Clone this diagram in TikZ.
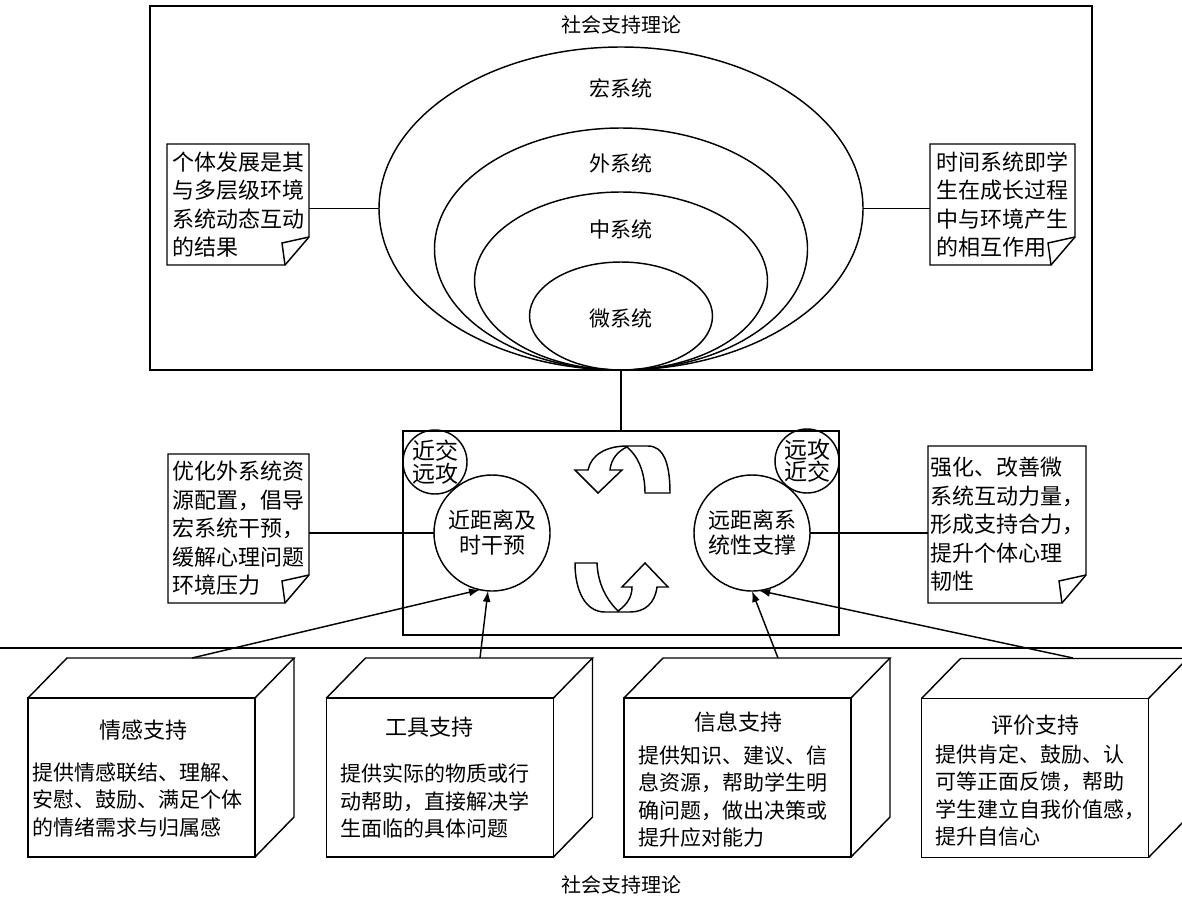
\documentclass[tikz,border=0pt]{standalone}
\usepackage{fontspec}
\newfontfamily\cjk{Noto Sans CJK SC}
\usetikzlibrary{shapes.geometric,arrows.meta,calc}
\newcommand\foldnote[1]{%
  \draw (#1.north west) -- (#1.north east) -- ($(#1.south east)+(0,-28)$) -- ($(#1.south east)+(-24,0)$) -- (#1.south west) -- cycle;
  \draw ($(#1.south east)+(0,-28)$) -- ($(#1.south east)+(-27,-22)$) -- ($(#1.south east)+(-24,0)$);}
\newcommand\cubefaces[1]{%
  \draw (#1.north west) -- ++(39,-40) -- ($(#1.north east)+(39,-40)$) -- (#1.north east);
  \draw ($(#1.north east)+(39,-40)$) -- ($(#1.south east)+(39,-40)$) -- (#1.south east);}
\begin{document}
\begin{tikzpicture}[x=1pt,y=-1pt,line width=1.45pt,
  every node/.style={font=\cjk, inner sep=0pt, outer sep=0pt},
  elllbl/.style={font=\cjk\fontsize{21}{25}\selectfont},
  title/.style={font=\cjk\fontsize{20}{24}\selectfont},
  notebox/.style={align=left, font=\cjk\fontsize{22}{28.5}\selectfont},
  bigcirc/.style={draw, circle, minimum size=116pt, align=center, font=\cjk\fontsize{22}{25}\selectfont},
  smallcirc/.style={draw, circle, minimum size=64pt, align=center, font=\cjk\fontsize{23}{22.5}\selectfont},
  frontface/.style={draw, minimum width=227pt, minimum height=159pt},
  cubetitle/.style={font=\cjk\fontsize{22}{26}\selectfont},
  cubebody/.style={anchor=west, align=left, font=\cjk\fontsize{21}{27.5}\selectfont},
  arr/.style={-{Latex[length=11pt,width=8pt]}},
  ribbon/.style={draw, fill=white}
]
\useasboundingbox (0,0) rectangle (1182,903);

% top box
\node[draw, minimum width=942pt, minimum height=364pt] (topbox) at (621,188) {};
\node[title] (toptitle) at (621,25) {社会支持理论};

% nested ellipses
\node[draw, ellipse, minimum width=484pt, minimum height=323pt] (macro) at (621,208.5) {};
\node[draw, ellipse, minimum width=373pt, minimum height=242pt] (exo) at (621,249) {};
\node[draw, ellipse, minimum width=293pt, minimum height=178pt] (meso) at (621,281) {};
\node[draw, ellipse, minimum width=183pt, minimum height=108pt] (micro) at (621,316) {};
\node[elllbl] (lmacro) at (621,88) {宏系统};
\node[elllbl] (lexo) at (621,163) {外系统};
\node[elllbl] (lmeso) at (621,229) {中系统};
\node[elllbl] (lmicro) at (621,318) {微系统};

% top notes
\node[notebox, minimum width=142pt, minimum height=121pt] (tln) at (238,204.5) {个体发展是其\\与多层级环境\\系统动态互动\\的结果};
\foldnote{tln}
\node[notebox, minimum width=145pt, minimum height=121pt] (trn) at (1002.5,204.5) {时间系统即学\\生在成长过程\\中与环境产生\\的相互作用};
\foldnote{trn}
\draw (macro.west) -- (macro.west -| tln.east);
\draw (macro.east) -- (macro.east -| trn.west);

% middle box
\node[draw, minimum width=436pt, minimum height=204pt] (midbox) at (621,533) {};
\draw (topbox.south) -- (midbox.north);
\node[smallcirc] (sl) at (435,462) {近交\\远攻};
\node[smallcirc] (sr) at (807,461) {远攻\\近交};
\node[bigcirc, fill=white] (lc) at (492,533) {近距离及\\时干预};
\node[bigcirc, fill=white] (rc) at (752,533) {远距离系\\统性支撑};

% cycle ribbons
\path[ribbon] (645,493) -- (670,493)
  .. controls (670,462) and (663,446) .. (648,446) -- (627,446)
  .. controls (606,446) and (591,455) .. (588,470)
  -- (575,470) -- (598,493) -- (622,470) -- (610,470)
  .. controls (611,459) and (618,451) .. (627,447)
  .. controls (638,456) and (645,472) .. (645,493) -- cycle;
\path[ribbon] (575,563) -- (597,563)
  .. controls (598,586) and (608,601) .. (618,611)
  .. controls (628,604) and (632,596) .. (632,587)
  -- (622,587) -- (645,563) -- (668,587) -- (657,587)
  .. controls (655,603) and (645,612) .. (630,612) -- (605,612)
  .. controls (586,612) and (575,592) .. (575,563) -- cycle;

% middle notes
\node[notebox, minimum width=141pt, minimum height=149pt] (bln) at (238.5,528.5) {优化外系统资\\源配置，倡导\\宏系统干预，\\缓解心理问题\\环境压力};
\foldnote{bln}
\node[notebox, minimum width=158pt, minimum height=157pt] (brn) at (1007,524.5) {强化、改善微\\系统互动力量，\\形成支持合力，\\提升个体心理\\韧性};
\foldnote{brn}
\draw (bln.east |- lc.west) -- (lc.west);
\draw (rc.east) -- (rc.east -| brn.west);

% divider line
\coordinate (hl) at (0,648);
\coordinate (hr) at (1182,648);
\draw (hl) -- (hr);

% cubes
\node[frontface] (c1) at (141.5,777.5) {};
\cubefaces{c1}
\node[cubetitle] (t1) at (143,730) {情感支持};
\node[cubebody] (b1) at (32,800) {提供情感联结、理解、\\安慰、鼓励、满足个体\\的情绪需求与归属感};

\node[frontface] (c2) at (440,777.5) {};
\cubefaces{c2}
\node[cubetitle] (t2) at (429,727) {工具支持};
\node[cubebody] (b2) at (340,801) {提供实际的物质或行\\动帮助，直接解决学\\生面临的具体问题};

\node[frontface] (c3) at (737.5,777.5) {};
\cubefaces{c3}
\node[cubetitle] (t3) at (738,722) {信息支持};
\node[cubebody] (b3) at (638,796.5) {提供知识、建议、信\\息资源，帮助学生明\\确问题，做出决策或\\提升应对能力};

\node[frontface] (c4) at (1035,778) {};
\cubefaces{c4}
\node[cubetitle] (t4) at (1035,725) {评价支持};
\node[cubebody] (b4) at (935,795.5) {提供肯定、鼓励、认\\可等正面反馈，帮助\\学生建立自我价值感，\\提升自信心};

% arrows
\coordinate (a1) at (192,658);
\coordinate (a2) at (480,658);
\coordinate (a3) at (778,658);
\coordinate (a4) at (1073,658);
\draw[arr] (a1) -- (lc.258);
\draw[arr] (a2) -- (lc.266);
\draw[arr] (a3) -- (rc.270);
\draw[arr] (a4) -- (rc.277);

% caption
\node[title] (caption) at (621,885) {社会支持理论};
\end{tikzpicture}
\end{document}
